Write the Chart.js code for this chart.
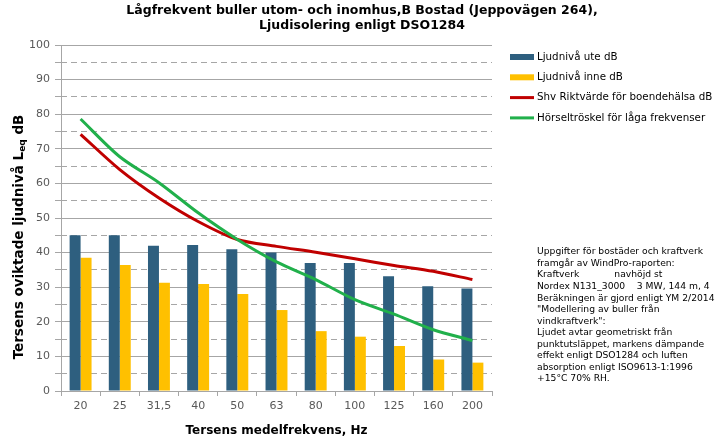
<!DOCTYPE html>
<html>
<head>
<meta charset="utf-8">
<script src="https://cdn.jsdelivr.net/npm/chart.js@4"></script>
<style>
  html, body { margin: 0; padding: 0; background: #fff; }
  #wrap { width: 727px; height: 442px; }
</style>
</head>
<body>
<div id="wrap"><canvas id="buller"></canvas></div>
<script>
// Tersband (Hz)
const frequencies = ["20", "25", "31,5", "40", "50", "63", "80", "100", "125", "160", "200"];
// Ljudnivå ute / inne, dB
const levelOutside = [45, 45, 42, 42.2, 41, 40, 37, 37, 33.2, 30.3, 29.6];
const levelInside = [38.5, 36.4, 31.3, 30.9, 28, 23.4, 17.3, 15.7, 13, 9.1, 8.2];
// Shv riktvärde och hörseltröskel
const guideline = [74.2, 64, 55.8, 49, 43.8, 41.8, 40.1, 38.2, 36.3, 34.6, 32.2];
const hearingThreshold = [78.6, 67.7, 60.2, 51.5, 43.8, 37.3, 32.2, 26.4, 22.2, 17.7, 14.6];

const titleLines = [
  "Lågfrekvent buller utom- och inomhus,B Bostad (Jeppovägen 264),",
  "Ljudisolering enligt DSO1284"
];
const noteLines = [
  "Uppgifter för bostäder och kraftverk",
  "framgår av WindPro-raporten:",
  "Kraftverk            navhöjd st",
  "Nordex N131_3000    3 MW, 144 m, 4",
  "Beräkningen är gjord enligt YM 2/2014",
  "\"Modellering av buller från",
  "vindkraftverk\":",
  "Ljudet avtar geometriskt från",
  "punktutsläppet, markens dämpande",
  "effekt enligt DSO1284 och luften",
  "absorption enligt ISO9613-1:1996",
  "+15°C 70% RH."
];

const FONT = "'DejaVu Sans', Verdana, sans-serif";
const GRID = "#a6a6a6";

// Rubrik, y-axelns titel med index, legend och kommentarstext
const decorations = {
  id: "decorations",
  afterDraw(chart) {
    const ctx = chart.ctx;
    ctx.save();
    ctx.fillStyle = "#000";
    ctx.textBaseline = "middle";

    // rubrik
    ctx.font = "bold 12.5px " + FONT;
    ctx.textAlign = "center";
    ctx.fillText(titleLines[0], 362, 11);
    ctx.fillText(titleLines[1], 362, 26);

    // y-axelns titel, L med index eq
    ctx.save();
    ctx.translate(19, 237);
    ctx.rotate(-Math.PI / 2);
    ctx.textAlign = "left";
    const big = "bold 13.5px " + FONT, small = "bold 9px " + FONT;
    const p1 = "Tersens oviktade ljudnivå L", p2 = "eq", p3 = " dB";
    ctx.font = big; const w1 = ctx.measureText(p1).width, w3 = ctx.measureText(p3).width;
    ctx.font = small; const w2 = ctx.measureText(p2).width;
    let x = -(w1 + w2 + w3) / 2;
    ctx.font = big; ctx.fillText(p1, x, 0); x += w1;
    ctx.font = small; ctx.fillText(p2, x, 4); x += w2;
    ctx.font = big; ctx.fillText(p3, x, 0);
    ctx.restore();

    // legend
    ctx.font = "10.3px " + FONT;
    ctx.textAlign = "left";
    chart.data.datasets.forEach((ds, i) => {
      const y = 57 + i * 20.3;
      ctx.fillStyle = ds.borderColor;
      const h = ds.type === "line" ? 3 : 6;
      ctx.fillRect(510, y - h / 2, 24, h);
      ctx.fillStyle = "#000";
      ctx.fillText(ds.label, 537, y);
    });

    // kommentar
    ctx.font = "9.2px " + FONT;
    noteLines.forEach((line, i) => ctx.fillText(line, 537, 252 + i * 11.55));
    ctx.restore();
  }
};

new Chart(document.getElementById("buller"), {
  type: "bar",
  data: {
    labels: frequencies,
    datasets: [
      { label: "Ljudnivå ute dB", data: levelOutside,
        backgroundColor: "#2e5f7f", borderColor: "#2e5f7f", order: 3 },
      { label: "Ljudnivå inne dB", data: levelInside,
        backgroundColor: "#ffc000", borderColor: "#ffc000", order: 3 },
      { type: "line", label: "Shv Riktvärde för boendehälsa dB", data: guideline,
        borderColor: "#c00000", backgroundColor: "#c00000", borderWidth: 3,
        pointRadius: 0, tension: 0.3, order: 1 },
      { type: "line", label: "Hörseltröskel för låga frekvenser", data: hearingThreshold,
        borderColor: "#21b04b", backgroundColor: "#21b04b", borderWidth: 3,
        pointRadius: 0, tension: 0.3, order: 0 }
    ]
  },
  options: {
    responsive: true,
    maintainAspectRatio: false,
    animation: false,
    events: [],
    layout: { padding: { top: 45, right: 235, left: 0, bottom: 0 } },
    datasets: { bar: { categoryPercentage: 0.56, barPercentage: 1.0 } },
    plugins: { legend: { display: false }, tooltip: { enabled: false } },
    scales: {
      x: {
        grid: { offset: true, drawOnChartArea: false, tickLength: 5, color: GRID },
        border: { color: GRID },
        ticks: { color: "#595959", font: { family: FONT, size: 11 }, padding: 4, maxRotation: 0 },
        title: { display: true, text: "Tersens medelfrekvens, Hz", color: "#000",
                 font: { family: FONT, size: 12, weight: "bold" }, padding: { top: 2 } },
        afterFit(scale) { scale.height = 51; }
      },
      y: {
        min: 0, max: 100,
        ticks: {
          stepSize: 5, color: "#595959", font: { family: FONT, size: 11 }, padding: 5,
          callback: v => (v % 10 === 0 ? v : "")
        },
        grid: {
          color: ctx => (ctx.tick && ctx.tick.value % 10 === 0 ? GRID : "rgba(0,0,0,0)"),
          tickColor: GRID, tickLength: 6
        },
        border: { color: GRID },
        afterFit(scale) { scale.width = 61; }
      },
      y2: {
        position: "left", min: 0, max: 100,
        ticks: { display: false, stepSize: 5 },
        grid: {
          drawTicks: false,
          color: ctx => (ctx.tick && ctx.tick.value % 10 !== 0 ? GRID : "rgba(0,0,0,0)")
        },
        border: { display: false, dash: [6, 4] },
        afterFit(scale) { scale.width = 0; }
      }
    }
  },
  plugins: [decorations]
});
</script>
</body>
</html>
